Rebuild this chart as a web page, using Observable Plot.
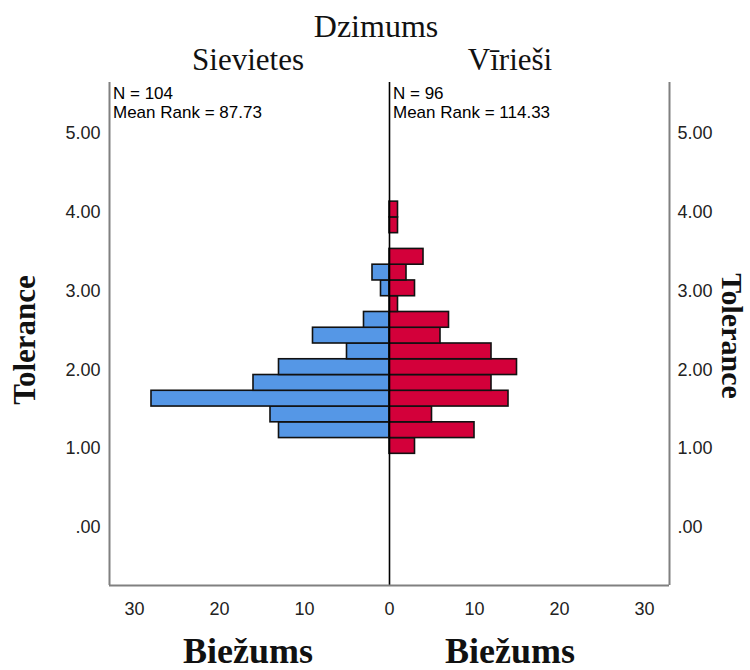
<!DOCTYPE html>
<html>
<head>
<meta charset="utf-8">
<script src="https://cdn.jsdelivr.net/npm/d3@7"></script>
<script src="https://cdn.jsdelivr.net/npm/@observablehq/plot@0.6"></script>
<style>
  html, body { margin: 0; padding: 0; background: #fff; }
  #chart { width: 750px; height: 670px; }
</style>
</head>
<body>
<div id="chart"></div>
<script>
// ---- data ----
const groupTitle = "Dzimums";
const groups = ["Sievietes", "Vīrieši"];
const groupN = [104, 96];
const groupMeanRank = ["87.73", "114.33"];
const binLow = [0.935, 1.135, 1.335, 1.535, 1.735, 1.935, 2.135, 2.335, 2.535, 2.735, 2.935, 3.135, 3.335, 3.535, 3.735, 3.935];
const binWidth = 0.2;
const femaleCounts = [0, 13, 14, 28, 16, 13, 5, 9, 3, 0, 1, 2, 0, 0, 0, 0];
const maleCounts   = [3, 10, 5, 14, 12, 15, 12, 6, 7, 1, 3, 2, 4, 0, 1, 1];
const yTicks = [0, 1, 2, 3, 4, 5];
const xTicks = [-30, -20, -10, 0, 10, 20, 30];
const xDomain = [-32.94, 32.94];
const yDomain = [-0.736, 5.647];
const yLabel = "Tolerance";
const xLabel = "Biežums";

const rows = [];
binLow.forEach((lo, i) => {
  if (femaleCounts[i] > 0) rows.push({group: groups[0], lo, hi: lo + binWidth, v: -femaleCounts[i]});
  if (maleCounts[i] > 0) rows.push({group: groups[1], lo, hi: lo + binWidth, v: maleCounts[i]});
});

const W = 750, H = 670;
const mL = 109, mR = 81, mT = 82, mB = 85;
const fmtY = v => v === 0 ? ".00" : v.toFixed(2);
const sans = "'Liberation Sans', Arial, sans-serif";
const serif = "'Liberation Serif', 'Times New Roman', serif";

const chart = Plot.plot({
  width: W, height: H,
  marginLeft: mL, marginRight: mR, marginTop: mT, marginBottom: mB,
  style: {fontFamily: sans, fontSize: "18px", color: "#222", background: "#fff", overflow: "visible"},
  x: {domain: xDomain, ticks: xTicks, tickFormat: d => String(Math.abs(d)), label: null},
  y: {domain: yDomain, ticks: yTicks, tickFormat: fmtY, label: null},
  color: {domain: groups, range: ["#5597e6", "#d3003a"]},
  marks: [
    Plot.rect(rows, {x1: 0, x2: "v", y1: "lo", y2: "hi", fill: "group", stroke: "#111", strokeWidth: 1.6}),
    Plot.ruleX([0], {stroke: "#000", strokeWidth: 1.6}),
    Plot.ruleX(xDomain, {stroke: "#808080", strokeWidth: 2}),
    Plot.ruleY([yDomain[0]], {stroke: "#808080", strokeWidth: 2}),
    Plot.axisY(yTicks, {anchor: "left", tickSize: 0, tickPadding: 9, tickFormat: fmtY, label: null}),
    Plot.axisY(yTicks, {anchor: "right", tickSize: 0, tickPadding: 8, tickFormat: fmtY, label: null}),
    Plot.axisX(xTicks, {anchor: "bottom", tickSize: 0, tickPadding: 17, tickFormat: d => String(Math.abs(d)), label: null})
  ]
});
document.getElementById("chart").appendChild(chart);

// ---- headers, stats and axis titles ----
const svg = d3.select(chart);
const addText = (txt, x, y, opts = {}) => {
  const t = svg.append("text")
    .attr("x", x).attr("y", y)
    .attr("text-anchor", opts.anchor || "middle")
    .attr("font-family", opts.family || serif)
    .attr("font-size", opts.size || 31)
    .attr("font-weight", opts.weight || "normal")
    .attr("fill", opts.fill || "#111")
    .text(txt);
  if (opts.rotate) t.attr("transform", `rotate(${opts.rotate},${x},${y})`).attr("dominant-baseline", "central");
  return t;
};
addText(groupTitle, 376, 37, {size: 32});
addText(groups[0], 248, 70, {size: 31});
addText(groups[1], 510, 70, {size: 31});
addText(`N = ${groupN[0]}`, 113, 99, {anchor: "start", family: sans, size: 17, fill: "#000"});
addText(`Mean Rank = ${groupMeanRank[0]}`, 113, 118, {anchor: "start", family: sans, size: 17, fill: "#000"});
addText(`N = ${groupN[1]}`, 393, 99, {anchor: "start", family: sans, size: 17, fill: "#000"});
addText(`Mean Rank = ${groupMeanRank[1]}`, 393, 118, {anchor: "start", family: sans, size: 17, fill: "#000"});
addText(yLabel, 24, 340, {size: 31, weight: "bold", rotate: -90});
addText(yLabel, 732, 336, {size: 30, weight: "bold", rotate: 90});
addText(xLabel, 248, 663, {size: 36, weight: "bold"});
addText(xLabel, 510, 663, {size: 36, weight: "bold"});
</script>
</body>
</html>
